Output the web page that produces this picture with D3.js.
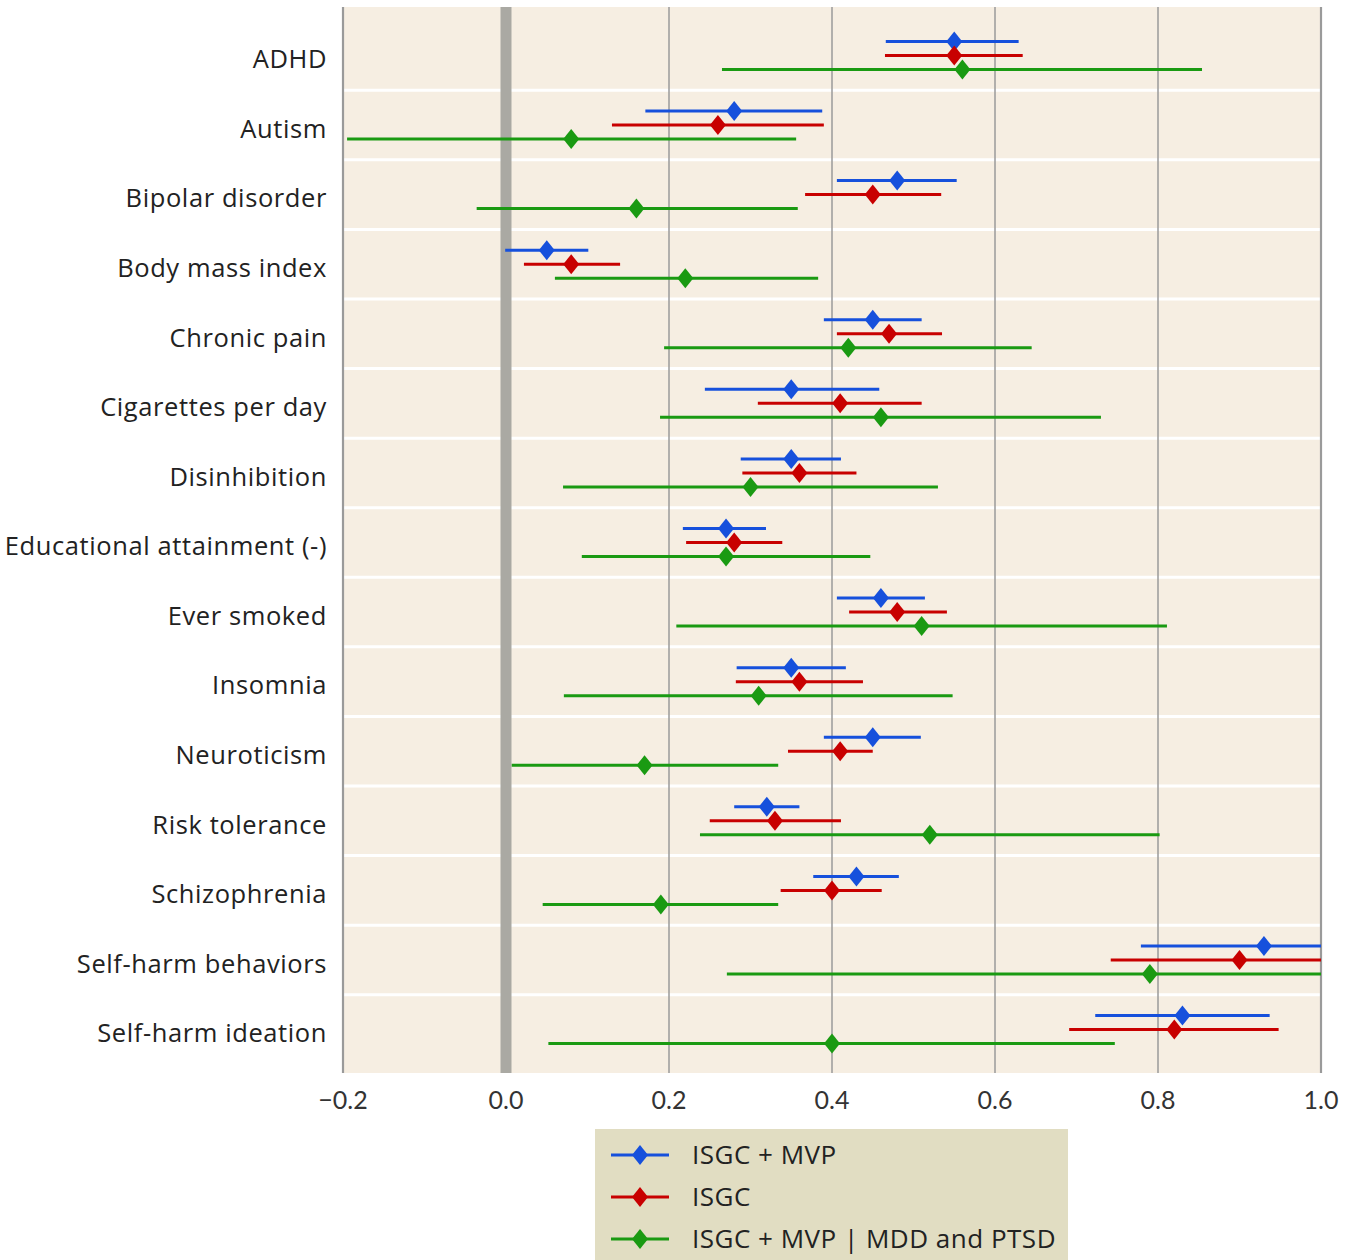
<!DOCTYPE html>
<html>
<head>
<meta charset="utf-8">
<script src="https://cdn.jsdelivr.net/npm/d3@7"></script>
<style>
  body { margin: 0; background: #fff; }
  text { font-family: "Open Sans", Lato, sans-serif; fill: #222; }
</style>
</head>
<body>
<div id="chart"></div>
<script>
var traits = ["ADHD", "Autism", "Bipolar disorder", "Body mass index", "Chronic pain",
  "Cigarettes per day", "Disinhibition", "Educational attainment (-)", "Ever smoked",
  "Insomnia", "Neuroticism", "Risk tolerance", "Schizophrenia", "Self-harm behaviors",
  "Self-harm ideation"];

var seriesNames = ["ISGC + MVP", "ISGC", "ISGC + MVP | MDD and PTSD"];
var seriesColors = ["#1650dc", "#c80000", "#1a9a12"];

// rg estimate, lower, upper per trait
var isgcMvp = [0.55, 0.28, 0.48, 0.05, 0.45, 0.35, 0.35, 0.27, 0.46, 0.35, 0.45, 0.32, 0.43, 0.93, 0.83];
var isgcMvpLo = [0.466, 0.171, 0.406, -0.001, 0.39, 0.244, 0.288, 0.217, 0.406, 0.283, 0.39, 0.28, 0.377, 0.779, 0.723];
var isgcMvpHi = [0.629, 0.388, 0.553, 0.101, 0.51, 0.458, 0.411, 0.319, 0.514, 0.417, 0.509, 0.36, 0.482, 1.0, 0.937];

var isgc = [0.55, 0.26, 0.45, 0.08, 0.47, 0.41, 0.36, 0.28, 0.48, 0.36, 0.41, 0.33, 0.40, 0.90, 0.82];
var isgcLo = [0.465, 0.130, 0.367, 0.022, 0.406, 0.309, 0.29, 0.221, 0.421, 0.282, 0.346, 0.25, 0.337, 0.742, 0.691];
var isgcHi = [0.634, 0.390, 0.534, 0.14, 0.535, 0.51, 0.43, 0.339, 0.541, 0.438, 0.45, 0.411, 0.461, 1.0, 0.948];

var cond = [0.56, 0.08, 0.16, 0.22, 0.42, 0.46, 0.30, 0.27, 0.51, 0.31, 0.17, 0.52, 0.19, 0.79, 0.40];
var condLo = [0.265, -0.195, -0.036, 0.06, 0.194, 0.189, 0.07, 0.093, 0.209, 0.071, 0.007, 0.238, 0.045, 0.271, 0.052];
var condHi = [0.854, 0.356, 0.358, 0.383, 0.645, 0.73, 0.53, 0.447, 0.811, 0.548, 0.334, 0.802, 0.334, 1.0, 0.747];

var xTicks = [-0.2, 0.0, 0.2, 0.4, 0.6, 0.8, 1.0];

var series = [
  {name: seriesNames[0], color: seriesColors[0], est: isgcMvp, lo: isgcMvpLo, hi: isgcMvpHi, off: -14},
  {name: seriesNames[1], color: seriesColors[1], est: isgc, lo: isgcLo, hi: isgcHi, off: 0},
  {name: seriesNames[2], color: seriesColors[2], est: cond, lo: condLo, hi: condHi, off: 14}
];

var width = 1357, height = 1260;
var svg = d3.select("#chart").append("svg")
  .attr("width", width)
  .attr("height", height);

var x = d3.scaleLinear().domain([-0.2, 1.0]).range([343, 1321]);
var y = d3.scaleBand().domain(traits).range([9.5, 1075.5]).paddingInner(0).paddingOuter(0.16);
var mid = function(t){ return y(t) + y.bandwidth()/2; };

// background
svg.append("rect")
  .attr("x", x(-0.2)).attr("y", 7)
  .attr("width", x(1.0) - x(-0.2)).attr("height", 1073 - 7)
  .style("fill", "#f6eee2");

// white separators between rows
svg.selectAll(".sep")
  .data(traits.slice(1))
  .enter().append("line")
  .attr("x1", x(-0.2)).attr("x2", x(1.0))
  .attr("y1", function(d){ return y(d); })
  .attr("y2", function(d){ return y(d); })
  .style("stroke", "#fff")
  .style("stroke-width", 3);

// vertical grid
svg.selectAll(".grid")
  .data(xTicks)
  .enter().append("line")
  .attr("x1", function(d){ return x(d); })
  .attr("x2", function(d){ return x(d); })
  .attr("y1", 7).attr("y2", 1073)
  .style("stroke", function(d){ return d === 0 ? "#aaa9a3" : "#9a9a9a"; })
  .style("stroke-width", function(d){
    if(d === 0) return 11;
    if(d === -0.2 || d === 1.0) return 2.2;
    return 1.5;
  });

// x tick labels
svg.selectAll(".tick")
  .data(xTicks)
  .enter().append("text")
  .attr("x", function(d){ return x(d); })
  .attr("y", 1109)
  .attr("text-anchor", "middle")
  .style("font-family", "Lato, sans-serif")
  .style("font-size", "25px")
  .style("fill", "#333")
  .text(function(d){ return d < 0 ? "\u2212" + Math.abs(d).toFixed(1) : d.toFixed(1); });

// trait labels
svg.selectAll(".label")
  .data(traits)
  .enter().append("text")
  .attr("x", 327)
  .attr("y", function(d){ return mid(d) + 6; })
  .attr("text-anchor", "end")
  .attr("dominant-baseline", "middle")
  .style("font-size", "25.5px")
  .style("letter-spacing", "0.6px")
  .text(function(d){ return d; });

function diamond(cx, cy){
  return "M" + cx + "," + (cy - 10) + "L" + (cx + 8) + "," + cy +
    "L" + cx + "," + (cy + 10) + "L" + (cx - 8) + "," + cy + "Z";
}

var plot = svg.append("g");
series.forEach(function(s){
  var g = plot.append("g");
  g.selectAll("line")
    .data(traits)
    .enter().append("line")
    .attr("x1", function(d, i){ return x(s.lo[i]); })
    .attr("x2", function(d, i){ return x(s.hi[i]); })
    .attr("y1", function(d){ return mid(d) + s.off; })
    .attr("y2", function(d){ return mid(d) + s.off; })
    .style("stroke", s.color)
    .style("stroke-width", 3);
  g.selectAll("path")
    .data(traits)
    .enter().append("path")
    .attr("d", function(d, i){ return diamond(x(s.est[i]), mid(d) + s.off); })
    .style("fill", s.color);
});

// legend
var legend = svg.append("g");
legend.append("rect")
  .attr("x", 595).attr("y", 1129)
  .attr("width", 473).attr("height", 131)
  .style("fill", "#e1ddc2");
series.forEach(function(s, i){
  var ly = 1155 + i * 42;
  legend.append("line")
    .attr("x1", 611).attr("x2", 669)
    .attr("y1", ly).attr("y2", ly)
    .style("stroke", s.color)
    .style("stroke-width", 3);
  legend.append("path")
    .attr("d", diamond(640, ly))
    .style("fill", s.color);
  legend.append("text")
    .attr("x", 692).attr("y", ly + 2)
    .attr("dominant-baseline", "middle")
    .style("font-size", "26px")
    .style("letter-spacing", "0.5px")
    .text(s.name);
});
</script>
</body>
</html>
